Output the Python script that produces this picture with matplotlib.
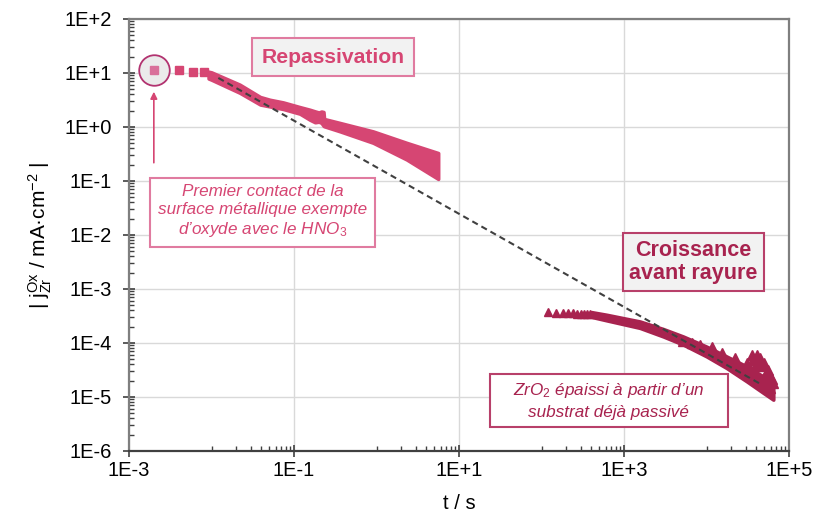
import numpy as np
import matplotlib
matplotlib.use('Agg')
import matplotlib.pyplot as plt
from matplotlib.patches import Rectangle
from matplotlib.ticker import FixedLocator, FuncFormatter, NullFormatter

plt.rcParams['font.family'] = ['Liberation Sans', 'DejaVu Sans']
plt.rcParams['mathtext.fontset'] = 'custom'
plt.rcParams['mathtext.rm'] = 'Liberation Sans'
plt.rcParams['mathtext.it'] = 'Liberation Sans:italic'
plt.rcParams['mathtext.bf'] = 'Liberation Sans:bold'

# --- repassivation (current right after the scratch) ---
t_first, j_first = 0.002, 11.2                       # first contact point
t_rep = [0.004, 0.006, 0.008]
j_rep = [11.2, 10.6, 10.3]
t_rep_band = [0.0092, 0.01, 0.022, 0.039, 0.051, 0.074, 0.118, 0.156, 0.18, 0.2,
              0.215, 0.228, 0.232, 0.361, 0.91, 2.32, 5.6]
j_rep_hi = [10.6, 10.3, 6.1, 3.6, 3.2, 2.86, 2.34, 2.09, 1.95, 1.86,
            1.94, 1.9, 1.41, 1.19, 0.83, 0.51, 0.33]
j_rep_lo = [7.9, 7.5, 4.3, 2.6, 2.4, 2.15, 1.76, 1.36, 1.22, 1.25,
            1.19, 1.05, 1.03, 0.83, 0.51, 0.25, 0.109]

# --- growth before scratch ---
t_gro = [120, 150, 180, 210, 240, 270, 300, 330, 360, 390]
j_gro = [3.7e-4, 3.65e-4, 3.6e-4, 3.6e-4, 3.55e-4, 3.5e-4, 3.5e-4, 3.45e-4, 3.45e-4, 3.4e-4]
t_gro_band = [400, 616, 1560, 2990, 5240, 1.0e4, 1.75e4, 3.07e4, 4.89e4, 6.46e4]
j_gro_hi = [3.75e-4, 3.34e-4, 2.51e-4, 1.82e-4, 1.32e-4, 8.6e-5, 5.65e-5, 3.69e-5, 2.4e-5, 1.47e-5]
j_gro_lo = [3.05e-4, 2.62e-4, 1.90e-4, 1.32e-4, 9.3e-5, 5.65e-5, 3.44e-5, 1.95e-5, 1.19e-5, 8.9e-6]
t_gro_out = [5240, 6600, 8340, 1.15e4, 1.52e4, 2.21e4, 2.55e4, 2.79e4, 3.07e4, 3.53e4,
             3.7e4, 3.9e4, 4.06e4, 4.2e4, 4.45e4, 4.67e4, 5.0e4, 5.3e4, 5.61e4, 5.89e4,
             6.2e4, 6.46e4, 5.89e4]
j_gro_out = [1.07e-4, 1.0e-4, 9.3e-5, 8.6e-5, 6.5e-5, 5.3e-5, 3.44e-5, 3.2e-5, 4.27e-5, 6.07e-5,
             4.9e-5, 3.8e-5, 6.07e-5, 4.5e-5, 5.3e-5, 3.69e-5, 4.2e-5, 2.8e-5, 3.2e-5, 2.4e-5,
             2.2e-5, 1.82e-5, 1.47e-5]

# power law fit
t_fit = [0.0121, 4.67e4]
j_fit = [8.1, 1.69e-5]

# arrow from the caption box up to the first point
t_arrow = 0.002
j_arrow_from, j_arrow_to = 0.218, 4.5

PINK = '#D64673'
PINK_LIGHT = '#D9709A'
WINE = '#A8234F'

fig = plt.figure(figsize=(8.16, 5.15), dpi=100)
ax = fig.add_axes([129/816, 64/515, 660/816, 432/515])
ax.set_xscale('log')
ax.set_yscale('log')
ax.set_xlim(1e-3, 1e5)
ax.set_ylim(1e-6, 1e2)

# dense repassivation record drawn as its envelope
ax.fill_between(t_rep_band, j_rep_lo, j_rep_hi, color=PINK, lw=2.5, edgecolor=PINK, zorder=3)
ax.plot(t_rep, j_rep, 's', color=PINK, ms=6, zorder=3)
ax.plot([t_first], [j_first], 'o', ms=22, mfc='#EBEBEB', mec='#B23370', mew=1.3, zorder=2)
ax.plot([t_first], [j_first], 's', color=PINK_LIGHT, ms=6, zorder=3)

ax.fill_between(t_gro_band, j_gro_lo, j_gro_hi, color=WINE, lw=2.5, edgecolor=WINE, zorder=3)
ax.plot(t_gro, j_gro, '^', color=WINE, ms=6, zorder=3)
ax.plot(t_gro_out, j_gro_out, '^', color=WINE, ms=7, zorder=3)

ax.plot(t_fit, j_fit, '--', color='#404040', lw=1.5, dashes=(3, 2), zorder=4)

ax.annotate('', xy=(t_arrow, j_arrow_to), xytext=(t_arrow, j_arrow_from),
            arrowprops=dict(arrowstyle='-|>', color=PINK, lw=1.2, mutation_scale=10,
                            shrinkA=0, shrinkB=0), zorder=4)

# axes, ticks and grid
log_fmt = FuncFormatter(lambda v, p: '1E%+d' % round(np.log10(v)))
ax.xaxis.set_major_locator(FixedLocator([1e-3, 1e-1, 1e1, 1e3, 1e5]))
ax.xaxis.set_major_formatter(log_fmt)
x_minor = [k * 10.0 ** n for n in (-2, 0, 2, 4) for k in range(1, 10)]
ax.xaxis.set_minor_locator(FixedLocator(x_minor))
ax.xaxis.set_minor_formatter(NullFormatter())
ax.yaxis.set_major_locator(FixedLocator([10.0 ** n for n in range(-6, 3)]))
ax.yaxis.set_major_formatter(log_fmt)
y_minor = [k * 10.0 ** n for n in range(-6, 2) for k in range(2, 10)]
ax.yaxis.set_minor_locator(FixedLocator(y_minor))
ax.yaxis.set_minor_formatter(NullFormatter())

ax.grid(True, which='major', color='#D9D9D9', lw=1.0, zorder=0)
ax.set_axisbelow(True)
ax.tick_params(which='major', direction='inout', length=8.6, width=1.2, color='#404040',
               labelsize=14.5, labelcolor='black')
ax.tick_params(axis='y', which='major', pad=8)
ax.tick_params(axis='x', which='major', pad=3)
ax.tick_params(which='minor', direction='in', length=3.8, width=1.0, color='#404040')
for side in ('left', 'top', 'right'):
    ax.spines[side].set_color('#7F7F7F')
    ax.spines[side].set_linewidth(1.6)
ax.spines['bottom'].set_color('#404040')
ax.spines['bottom'].set_linewidth(1.6)

ax.set_xlabel('t / s', fontsize=14.5)
ax.xaxis.set_label_coords(0.5, -0.1)
ax.set_ylabel(r'| $\mathrm{j_{Zr}^{Ox}}$ / mA·cm$^{\mathrm{-2}}$ |', fontsize=15)
ax.yaxis.set_label_coords(-0.113, 0.5)

# captions
ax.text(0.309, 0.912, 'Repassivation', transform=ax.transAxes, ha='center', va='center',
        fontsize=15.2, fontweight='bold', color=PINK, zorder=5,
        bbox=dict(boxstyle='square,pad=0.45', fc='#F2F2F2', ec='#E07BA0', lw=1.5))
ax.text(0.855, 0.4375, 'Croissance\navant rayure', transform=ax.transAxes, ha='center',
        va='center', fontsize=15.5, fontweight='bold', color=WINE, linespacing=1.15, zorder=5,
        bbox=dict(boxstyle='square,pad=0.3', fc='#F2F2F2', ec='#B8406A', lw=1.5))
ax.text(0.202, 0.554, 'Premier contact de la\nsurface métallique exempte\nd\u2019oxyde avec le HNO$_3$',
        transform=ax.transAxes, ha='center', va='center', fontsize=12.3, style='italic',
        color=PINK, linespacing=1.25, zorder=5,
        bbox=dict(boxstyle='square,pad=0.45', fc='white', ec='#E07BA0', lw=1.5))
ax.add_patch(Rectangle((0.547, 0.0556), 0.3606, 0.1227, transform=ax.transAxes,
                       fc='white', ec='#B8406A', lw=1.5, zorder=5))
ax.text(0.727, 0.117, 'ZrO$_2$ épaissi à partir d\u2019un\nsubstrat déjà passivé',
        transform=ax.transAxes, ha='center', va='center', fontsize=12.3, style='italic',
        color=WINE, linespacing=1.35, zorder=6)

fig.savefig('out.png', dpi=100)
